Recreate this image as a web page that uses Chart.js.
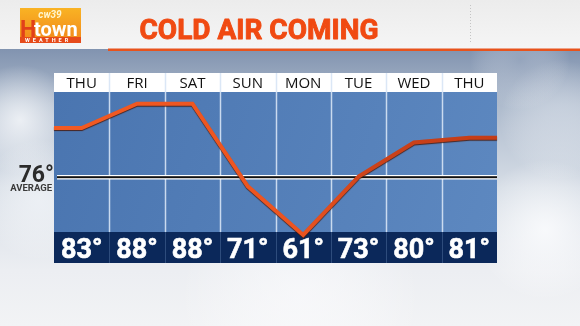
<!DOCTYPE html>
<html>
<head>
<meta charset="utf-8">
<script src="https://cdn.jsdelivr.net/npm/chart.js@4/dist/chart.umd.min.js"></script>
<style>
  html, body { margin: 0; padding: 0; background: #eef0f3; }
  canvas { display: block; }
</style>
</head>
<body>
<canvas id="c" width="580" height="326"></canvas>
<script>
// ---- data ----
const titleText = 'COLD AIR COMING';
const days = ['THU', 'FRI', 'SAT', 'SUN', 'MON', 'TUE', 'WED', 'THU'];
const highs = [83, 88, 88, 71, 61, 73, 80, 81];
const averageHigh = 76;          // label value
const averageRuleLevel = 73;     // level on the temperature scale where the graphic draws its average rule
const tempMin = 61.6;
const tempMax = 90.4;

// line points: one per day, the first/last value carried to the panel edges
const linePoints = [{ x: -0.5, y: highs[0] }]
  .concat(highs.map((v, i) => ({ x: i, y: v })))
  .concat([{ x: days.length - 0.5, y: highs[highs.length - 1] }]);

const HEAD_H = 19;   // day-name strip above plot area
const BAND_H = 31;   // value strip below plot area

const backdrop = {
  id: 'backdrop',
  beforeDraw(chart) {
    const ctx = chart.ctx;
    const W = chart.width, H = chart.height;
    const a = chart.chartArea;
    const xs = chart.scales.x;
    ctx.save();
    // sky
    let g = ctx.createLinearGradient(0, 50, 0, H);
    g.addColorStop(0, '#8294b0');
    g.addColorStop(0.2, '#aebbcd');
    g.addColorStop(0.5, '#d6dde6');
    g.addColorStop(0.8, '#eceef2');
    g.addColorStop(1, '#f2f3f5');
    ctx.fillStyle = g;
    ctx.fillRect(0, 0, W, H);
    // clouds
    const blob = (x, y, r, c) => {
      const rg = ctx.createRadialGradient(x, y, 0, x, y, r);
      rg.addColorStop(0, c);
      rg.addColorStop(1, 'rgba(255,255,255,0)');
      ctx.fillStyle = rg;
      ctx.fillRect(x - r, y - r, 2 * r, 2 * r);
    };
    blob(20, 120, 55, 'rgba(245,247,250,0.85)');
    blob(40, 200, 60, 'rgba(240,243,247,0.8)');
    blob(545, 230, 70, 'rgba(250,251,253,0.9)');
    blob(560, 120, 60, 'rgba(215,222,232,0.6)');
    blob(300, 300, 120, 'rgba(250,250,252,0.7)');
    blob(520, 60, 50, 'rgba(160,174,196,0.5)');
    // header strip
    g = ctx.createLinearGradient(0, 0, 0, 49);
    g.addColorStop(0, '#ececec');
    g.addColorStop(1, '#f5f5f5');
    ctx.fillStyle = g;
    ctx.fillRect(0, 0, W, 49);
    // orange underline
    ctx.fillStyle = '#e8531c';
    ctx.fillRect(108, 48.5, W - 108, 2.5);
    // dotted divider
    ctx.strokeStyle = '#c4c4c4';
    ctx.lineWidth = 1;
    ctx.setLineDash([1, 2]);
    ctx.beginPath();
    ctx.moveTo(470.5, 5);
    ctx.lineTo(470.5, 44);
    ctx.stroke();
    ctx.setLineDash([]);
    // logo
    g = ctx.createLinearGradient(0, 8, 0, 43);
    g.addColorStop(0, '#f9b324');
    g.addColorStop(1, '#f1861a');
    ctx.fillStyle = g;
    ctx.fillRect(20, 8, 61, 35);
    ctx.fillStyle = '#e64b1a';
    ctx.fillRect(20, 37, 61, 6);
    ctx.textBaseline = 'alphabetic';
    ctx.textAlign = 'center';
    ctx.fillStyle = '#fff6d0';
    ctx.font = 'italic bold 10px Roboto';
    ctx.fillText('cw39', 50, 18);
    ctx.textAlign = 'left';
    ctx.fillStyle = '#e2401a';
    ctx.font = 'bold 23px Roboto';
    ctx.fillText('H', 20, 37);
    ctx.fillStyle = '#ffffff';
    ctx.font = 'bold 20px Roboto';
    ctx.fillText('town', 34, 35.5);
    ctx.font = 'bold 5.5px Roboto';
    ctx.letterSpacing = '3px';
    ctx.fillText('WEATHER', 25, 42.3);
    ctx.letterSpacing = '0px';
    // title
    ctx.textAlign = 'center';
    ctx.fillStyle = '#f04a12';
    ctx.strokeStyle = '#f04a12';
    ctx.lineWidth = 0.9;
    ctx.lineJoin = 'round';
    ctx.font = 'bold 28px Roboto';
    ctx.fillText(titleText, 259, 39);
    ctx.strokeText(titleText, 259, 39);

    // plot panel
    g = ctx.createLinearGradient(a.left, a.top, a.right, a.bottom);
    g.addColorStop(0, '#4a75b0');
    g.addColorStop(1, '#5d88c0');
    ctx.fillStyle = g;
    ctx.fillRect(a.left, a.top, a.right - a.left, a.bottom - a.top);
    // day strip
    ctx.fillStyle = '#ffffff';
    ctx.fillRect(a.left, a.top - HEAD_H, a.right - a.left, HEAD_H);
    // value strip
    ctx.fillStyle = '#0b285a';
    ctx.fillRect(a.left, a.bottom, a.right - a.left, BAND_H);

    // column dividers
    for (let i = 1; i < days.length; i++) {
      const px = Math.round(xs.getPixelForValue(i - 0.5)) + 0.5;
      ctx.strokeStyle = 'rgba(215,228,245,0.9)';
      ctx.lineWidth = 1.5;
      ctx.beginPath();
      ctx.moveTo(px, a.top - HEAD_H);
      ctx.lineTo(px, a.bottom);
      ctx.stroke();
      ctx.strokeStyle = '#2e4c7c';
      ctx.lineWidth = 1;
      ctx.beginPath();
      ctx.moveTo(px, a.bottom);
      ctx.lineTo(px, a.bottom + BAND_H);
      ctx.stroke();
    }
    // texts in strips
    ctx.textAlign = 'center';
    days.forEach((d, i) => {
      const px = xs.getPixelForValue(i);
      ctx.fillStyle = '#111111';
      ctx.font = '15px "Open Sans"';
      ctx.fillText(d, px, a.top - 4);
      ctx.fillStyle = '#ffffff';
      ctx.strokeStyle = '#ffffff';
      ctx.lineWidth = 0.6;
      ctx.font = 'bold 27px Roboto';
      ctx.fillText(highs[i] + '°', px, a.bottom + 26);
      ctx.strokeText(highs[i] + '°', px, a.bottom + 26);
    });

    // average rule
    const ys = chart.scales.y;
    const ay = Math.round(ys.getPixelForValue(averageRuleLevel));
    ctx.fillStyle = '#ffffff';
    ctx.fillRect(a.left + 3, ay - 2, a.right - a.left - 3, 4.5);
    ctx.fillStyle = '#111111';
    ctx.fillRect(a.left + 3, ay - 0.8, a.right - a.left - 3, 2);
    // average label
    ctx.textAlign = 'right';
    ctx.fillStyle = '#2b2b2b';
    ctx.font = 'bold 23px Roboto';
    ctx.fillText(averageHigh + '°', 54, ay + 5);
    ctx.fillStyle = '#3a3a3a';
    ctx.font = 'bold 9.5px Roboto';
    ctx.fillText('AVERAGE', 52, ay + 14);
    ctx.restore();
  },
  beforeDatasetsDraw(chart) {
    const ctx = chart.ctx;
    ctx.save();
    ctx.shadowColor = 'rgba(70,20,5,0.85)';
    ctx.shadowOffsetX = 0;
    ctx.shadowOffsetY = 1;
    ctx.shadowBlur = 1;
  },
  afterDatasetsDraw(chart) {
    chart.ctx.restore();
  }
};

const ctxEl = document.getElementById('c');
new Chart(ctxEl, {
  type: 'line',
  data: {
    datasets: [{
      data: linePoints,
      borderColor(c) {
        const a = c.chart.chartArea;
        if (!a) return '#ee5522';
        const g = c.chart.ctx.createLinearGradient(a.left, 0, a.right, 0);
        g.addColorStop(0, '#f25a22');
        g.addColorStop(0.55, '#ec5420');
        g.addColorStop(0.72, '#cc421a');
        g.addColorStop(1, '#c43c16');
        return g;
      },
      borderWidth: 4,
      pointRadius: 0,
      tension: 0,
      fill: false,
      clip: false,
      borderJoinStyle: 'miter'
    }]
  },
  options: {
    responsive: false,
    devicePixelRatio: 1,
    animation: false,
    layout: { padding: { left: 54, right: 83, top: 92, bottom: 94 } },
    scales: {
      x: { type: 'linear', min: -0.5, max: days.length - 0.5, display: false },
      y: { min: tempMin, max: tempMax, display: false }
    },
    plugins: { legend: { display: false }, tooltip: { enabled: false } }
  },
  plugins: [backdrop]
});
</script>
</body>
</html>
